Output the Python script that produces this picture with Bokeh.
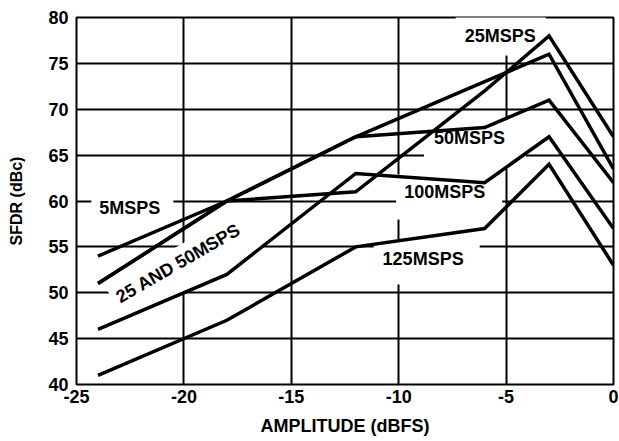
import math
from bokeh.plotting import figure
from bokeh.models import Label, FixedTicker, Range1d
from bokeh.embed import file_html
from bokeh.resources import INLINE

# ---- data ----
amplitude = [-24, -18, -12, -6, -3, 0]
sfdr_5msps = [54, 60, 67, 73, 76, 63.5]
sfdr_25msps = [51, 60, 61, 72, 78, 67]
sfdr_50msps = [51, 60, 67, 68, 71, 62]
sfdr_100msps = [46, 52, 63, 62, 67, 57]
sfdr_125msps = [41, 47, 55, 57, 64, 53]

x_ticks = [-25, -20, -15, -10, -5, 0]
x_tick_labels = ["-25", "-20", "-15", "-10", "-5", "0"]
y_ticks = [40, 45, 50, 55, 60, 65, 70, 75, 80]

series = [sfdr_5msps, sfdr_25msps, sfdr_50msps, sfdr_100msps, sfdr_125msps]

# label text, x, y, angle (deg), padding (top, right, bottom, left)
label_texts = ["5MSPS", "25MSPS", "50MSPS", "100MSPS", "125MSPS", "25 AND 50MSPS"]
label_x = [-22.4, -5.25, -6.45, -7.65, -8.7, -19.85]
label_y = [58.95, 77.98, 66.32, 60.44, 53.35, 52.95]
label_angle = [0, 0, 0, 0, 0, 30]
label_pad = [(8, 13, 8, 13), (9, 10, 9, 10), (10, 21, 10, 21),
             (8, 17, 8, 17), (9, 16, 9, 16), (5, 18, 5, 18)]

FONT = "Liberation Sans"

p = figure(width=619, height=441, output_backend="svg", toolbar_location=None,
           x_range=Range1d(-25, 0), y_range=Range1d(40, 80),
           min_border_left=76, min_border_right=6, min_border_top=17,
           min_border_bottom=57)
p.background_fill_color = "white"
p.border_fill_color = "white"
p.outline_line_color = "black"
p.outline_line_width = 2
p.outline_line_alpha = 1.0

p.xaxis.ticker = FixedTicker(ticks=x_ticks)
p.yaxis.ticker = FixedTicker(ticks=y_ticks)
p.xgrid.ticker = FixedTicker(ticks=x_ticks)
p.ygrid.ticker = FixedTicker(ticks=y_ticks)
p.xaxis.major_label_overrides = {t: s for t, s in zip(x_ticks, x_tick_labels)}
for g in (p.xgrid, p.ygrid):
    g.grid_line_color = "black"
    g.grid_line_width = 2
    g.grid_line_alpha = 1.0

for ax in (p.xaxis, p.yaxis):
    ax.axis_line_color = None
    ax.major_tick_line_color = None
    ax.minor_tick_line_color = None
    ax.major_tick_out = 0
    ax.major_tick_in = 0
    ax.major_label_text_font = FONT
    ax.major_label_text_font_style = "bold"
    ax.major_label_text_font_size = "18px"
    ax.major_label_text_color = "black"
    ax.axis_label_text_font = FONT
    ax.axis_label_text_font_style = "bold"
    ax.axis_label_text_color = "black"

p.xaxis.axis_label = "AMPLITUDE (dBFS)"
p.xaxis.axis_label_text_font_size = "18px"
p.xaxis.major_label_standoff = 5
p.xaxis.axis_label_standoff = 10

p.yaxis.axis_label = "SFDR (dBc)"
p.yaxis.axis_label_text_font_size = "16px"
p.yaxis.major_label_standoff = 8
p.yaxis.axis_label_standoff = 20

for t, lx, ly, ang, pad in zip(label_texts, label_x, label_y, label_angle, label_pad):
    lab = Label(x=lx, y=ly, text=t, angle=math.radians(ang),
                text_align="center", text_baseline="middle",
                text_font=FONT, text_font_style="bold", text_font_size="18px",
                text_color="black", background_fill_color="white",
                background_fill_alpha=1.0, padding=pad, level="underlay")
    p.add_layout(lab)

for s in series:
    p.line(amplitude, s, line_color="black", line_width=3.5, line_join="miter")

open("out.html", "w").write(file_html(p, INLINE))
